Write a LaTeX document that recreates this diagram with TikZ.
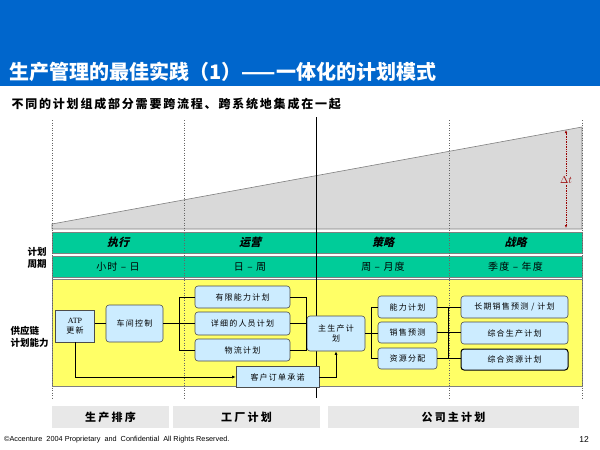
\documentclass[tikz,border=0pt]{standalone}
\usepackage{fontspec}
\setmainfont{Liberation Sans}
\newfontfamily\cjk{Noto Sans CJK SC}
\newfontfamily\latinserif{Liberation Serif}
\usepackage{tikz}
\usetikzlibrary{positioning, arrows.meta}

\definecolor{bannerblue}{HTML}{0066CC}
\definecolor{bandgreen}{HTML}{00CC99}
\definecolor{planyellow}{HTML}{FFFF66}
\definecolor{boxblue}{HTML}{CCECFF}
\definecolor{wedgegray}{HTML}{D9D9D9}
\definecolor{bargray}{HTML}{E8E8E8}
\definecolor{deltared}{HTML}{990000}

\begin{document}
\begin{tikzpicture}[
    x=1pt, y=-1pt,
    plan/.style={
        draw=black!70,
        fill=boxblue,
        rounded corners=3pt,
        line width=0.6pt,
        inner sep=1pt,
        align=center,
        font=\cjk\fontsize{8}{10}\selectfont\addfontfeature{LetterSpace=15}
    },
    flat/.style={plan, rounded corners=0pt},
    band/.style={draw=gray, line width=0.5pt},
    link/.style={draw=black, line width=0.7pt},
    arrow/.style={link, -{Latex[length=3.5pt,width=3pt]}},
    guide/.style={black!60, dotted, line width=0.5pt},
    head/.style={font=\cjk\fontsize{11}{13}\selectfont\bfseries\addfontfeature{FakeSlant=0.25}},
    span/.style={font=\cjk\fontsize{10}{12}\selectfont\addfontfeature{LetterSpace=12}},
    side/.style={font=\cjk\fontsize{9.5}{12}\selectfont\bfseries},
    tab/.style={fill=bargray, inner sep=0pt, minimum height=22pt,
        font=\cjk\fontsize{11}{13}\selectfont\bfseries\addfontfeature{LetterSpace=20}}
]
\useasboundingbox (0,0) rectangle (600,450);

% Title
\fill[bannerblue] (0,0) rectangle (600,86);
\node[anchor=west, text=white, font=\cjk\fontsize{20}{24}\selectfont\bfseries] (title) at (6,72) {生产管理的最佳实践（1）——一体化的计划模式};
\node[anchor=west, font=\cjk\fontsize{12}{14}\selectfont\bfseries\addfontfeature{LetterSpace=15}] (subtitle) at (8,104) {不同的计划组成部分需要跨流程、跨系统地集成在一起};

% Time wedge and bands
\filldraw[fill=wedgegray, draw=gray, line width=0.6pt] (52,224) -- (582,127) -- (582,229) -- (52,229) -- cycle;
\filldraw[band, fill=bandgreen] (52,232) rectangle (582,253);
\filldraw[band, fill=bandgreen] (52,256) rectangle (582,277);
\filldraw[band, fill=planyellow] (52,279) rectangle (582,386);

\foreach \gx in {52,184,449,582}
    \draw[guide] (\gx,120) -- (\gx,398);
\draw[black, line width=0.8pt] (316.5,117) -- (316.5,398);

% Delta t
\node[text=deltared, fill=wedgegray, inner sep=1pt, font=\fontsize{10}{11}\selectfont] (dt) at (566,180) {$\Delta t$};
\coordinate (dttop) at (566,130);
\coordinate (dtbot) at (566,228);
\draw[deltared, densely dotted, line width=0.7pt, -{Latex[length=3pt,width=2.5pt]}] (dt) -- (dttop);
\draw[deltared, densely dotted, line width=0.7pt, -{Latex[length=3pt,width=2.5pt]}] (dt) -- (dtbot);

% Horizons
\node[head] (h1) at (118,242.5) {执行};
\node[head] (h2) at (250,242.5) {运营};
\node[head] (h3) at (383,242.5) {策略};
\node[head] (h4) at (515.5,242.5) {战略};
\node[span] (p1) at (118,266.5) {小时 – 日};
\node[span] (p2) at (250,266.5) {日 – 周};
\node[span] (p3) at (383,266.5) {周 – 月度};
\node[span] (p4) at (515.5,266.5) {季度 – 年度};

\node[side, align=center] (cycle) at (37,258) {计划\\周期};
\node[side, align=left, anchor=west] (ability) at (7,337) {供应链\\计划能力};

% Planning blocks
\node[flat, minimum width=39pt, minimum height=32pt] (atp) at (75,326) {{\latinserif ATP}\\更新};
\node[plan, minimum width=57pt, minimum height=37pt] (shop) at (134.5,323.5) {车间控制};
\node[plan, minimum width=95pt, minimum height=22pt] (fcp) at (242.5,297) {有限能力计划};
\node[plan, minimum width=95pt, minimum height=23pt] (staff) at (242.5,323.5) {详细的人员计划};
\node[plan, minimum width=95pt, minimum height=22pt] (logi) at (242.5,350) {物流计划};
\node[flat, minimum width=83pt, minimum height=21pt] (order) at (277.5,377) {客户订单承诺};
\node[plan, minimum width=58pt, minimum height=35pt] (mps) at (336,333.5) {主生产计\\划};
\node[plan, minimum width=59pt, minimum height=22pt] (cap) at (407.5,307) {能力计划};
\node[plan, minimum width=59pt, minimum height=21pt] (fcst) at (407.5,332.5) {销售预测};
\node[plan, minimum width=59pt, minimum height=21pt] (res) at (407.5,358.5) {资源分配};
\node[plan, minimum width=107pt, minimum height=22pt] (lrf) at (514.5,307) {长期销售预测 / 计划};
\node[plan, minimum width=107pt, minimum height=22pt] (agg) at (514.5,333) {综合生产计划};
\node[plan, draw=black, line width=1pt, minimum width=107pt, minimum height=21pt] (arp) at (514.5,359.5) {综合资源计划};

% Links
\draw[link] (shop.west -| atp.east) -- (shop.west);
\draw[link] (shop) -- (staff);
\draw[link] (fcp.west) -- ++(-15,0) |- (logi.west);
\draw[link] (fcp.east) -- ++(16,0) |- (logi.east);
\draw[link] (staff.east) -- (staff.east -| mps.west);
\draw[link] (mps.east) -- (mps.east -| fcst.west);
\draw[link] (cap.west) -- ++(-6,0) |- (res.west);
\draw[link] (cap) -- (lrf);
\draw[link] (fcst.east) -- (fcst.east -| agg.west);
\draw[link] (res.east) -- (res.east -| arp.west);
\coordinate (bus) at (448,307);
\draw[link] (bus) -- (bus |- res.east);
\draw[arrow] (atp.south) |- (order.west);
\draw[arrow] (order.east) -| (mps.south);

% Scope bar
\node[tab, minimum width=117pt] (b1) at (110.5,417) {生产排序};
\node[tab, minimum width=147pt] (b2) at (246.5,417) {工厂计划};
\node[tab, minimum width=251pt] (b3) at (453.5,417) {公司主计划};

% Footer
\node[anchor=west, inner sep=0pt, font=\fontsize{7.3}{9}\selectfont] (foot) at (4,440) {\textcopyright Accenture\ \ 2004 Proprietary\ \ and\ \ Confidential\ \ All Rights Reserved.};
\node[anchor=east, inner sep=0pt, font=\fontsize{8.5}{10}\selectfont] (page) at (589,440) {12};

\end{tikzpicture}
\end{document}
